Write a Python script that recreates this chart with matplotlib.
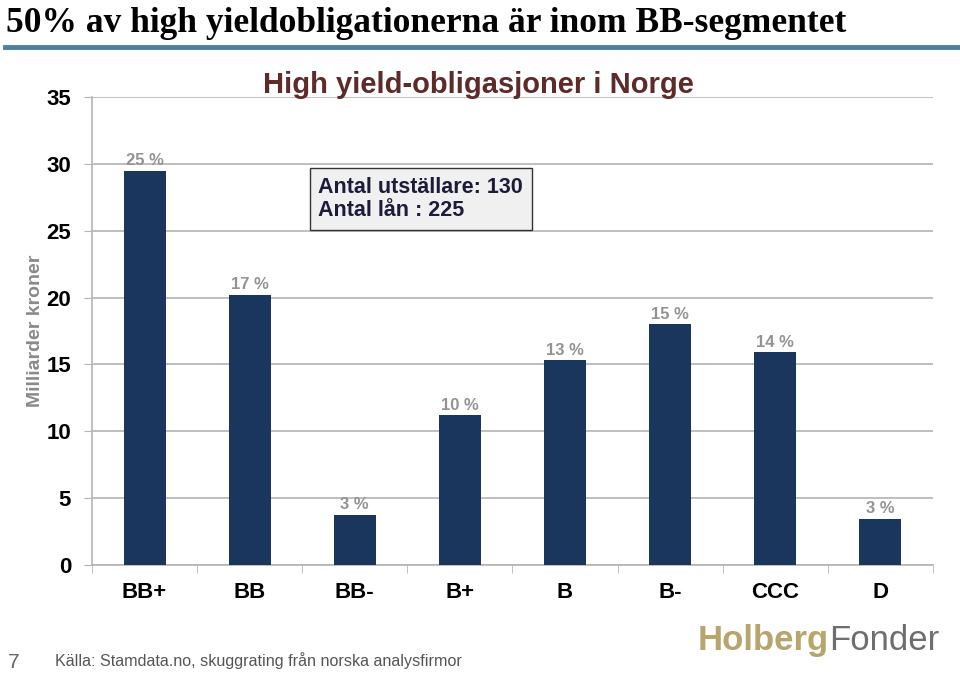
import numpy as np
import matplotlib.pyplot as plt

# Data
ratings = ["BB+", "BB", "BB-", "B+", "B", "B-", "CCC", "D"]
volumes = [29.5, 20.2, 3.75, 11.2, 15.3, 18.0, 15.9, 3.45]
shares = ["25 %", "17 %", "3 %", "10 %", "13 %", "15 %", "14 %", "3 %"]

navy = "#1b365d"
grid_col = "#b4b4b4"

fig = plt.figure(figsize=(9.6, 6.74), dpi=100)

# slide header
fig.text(0.006, 0.953, "50% av high yieldobligationerna är inom BB-segmentet",
         family="Liberation Serif", fontweight="bold", fontsize=25.5,
         ha="left", va="baseline", color="black")
fig.add_artist(plt.Line2D([0.005, 1.0], [0.930, 0.930], color="#4f7f9f",
                          linewidth=3.5, transform=fig.transFigure))

ax = fig.add_axes([0.0958, 0.1617, 0.876, 0.6943])
x = np.arange(len(ratings))
ax.bar(x, volumes, width=0.4, color=navy, zorder=3)

for xi, v, s in zip(x, volumes, shares):
    ax.text(xi, v + 0.2, s, ha="center", va="bottom", fontsize=12,
            fontweight="bold", color="#939393", family="Liberation Sans")

ax.set_xlim(-0.5, len(ratings) - 0.5)
ax.set_ylim(0, 35)
ax.set_yticks(np.arange(0, 36, 5))
ax.set_xticks(x)
ax.set_xticklabels(ratings)
ax.set_xticks(np.arange(-0.5, len(ratings)), minor=True)
ax.tick_params(axis="x", which="major", length=0, pad=12)
ax.tick_params(axis="x", which="minor", length=6, color=grid_col)
ax.tick_params(axis="y", length=6, color=grid_col, pad=9)
for lab in ax.get_xticklabels() + ax.get_yticklabels():
    lab.set_fontweight("bold")
    lab.set_fontsize(16)
    lab.set_family("Liberation Sans")

ax.yaxis.grid(True, color=grid_col, linewidth=1.2, zorder=0)
for sp in ["top", "right"]:
    ax.spines[sp].set_visible(False)
ax.spines["left"].set_color(grid_col)
ax.spines["bottom"].set_color(grid_col)
ax.spines["left"].set_linewidth(1.2)
ax.spines["bottom"].set_linewidth(1.2)

ax.set_ylabel("Milliarder kroner", fontsize=14, fontweight="bold",
              color="#8a8a8a", family="Liberation Sans", labelpad=2)

fig.text(0.498, 0.874, "High yield-obligasjoner i Norge", fontsize=21,
         fontweight="bold", color="#5e2a2a", family="Liberation Sans",
         ha="center", va="center")

ax.text(0.269, 0.829, "Antal utställare: 130\nAntal lån : 225",
        transform=ax.transAxes, ha="left", va="top", fontsize=15.5,
        fontweight="bold", color="#1c1c3a", family="Liberation Sans",
        linespacing=1.15,
        bbox=dict(boxstyle="square,pad=0.4", facecolor="#f0f0f0",
                  edgecolor="#333333", linewidth=1))

# footer
fig.text(0.008, 0.003, "7", fontsize=15, color="#666666",
         family="Liberation Sans", ha="left", va="bottom")
fig.text(0.057, 0.008, "Källa: Stamdata.no, skuggrating från norska analysfirmor",
         fontsize=11.6, color="#555555", family="Liberation Sans",
         ha="left", va="bottom")
t1 = fig.text(0.727, 0.0356, "Holberg", fontsize=25, fontweight="bold",
              color="#b8a56c", family="Liberation Sans", ha="left", va="baseline")
fig.canvas.draw()
bb = t1.get_window_extent()
fig.text(bb.x1 / fig.bbox.width, 0.0356, "Fonder", fontsize=25,
         color="#6e6e6e", family="Liberation Sans", ha="left", va="baseline")

plt.savefig("out.png", dpi=100)
